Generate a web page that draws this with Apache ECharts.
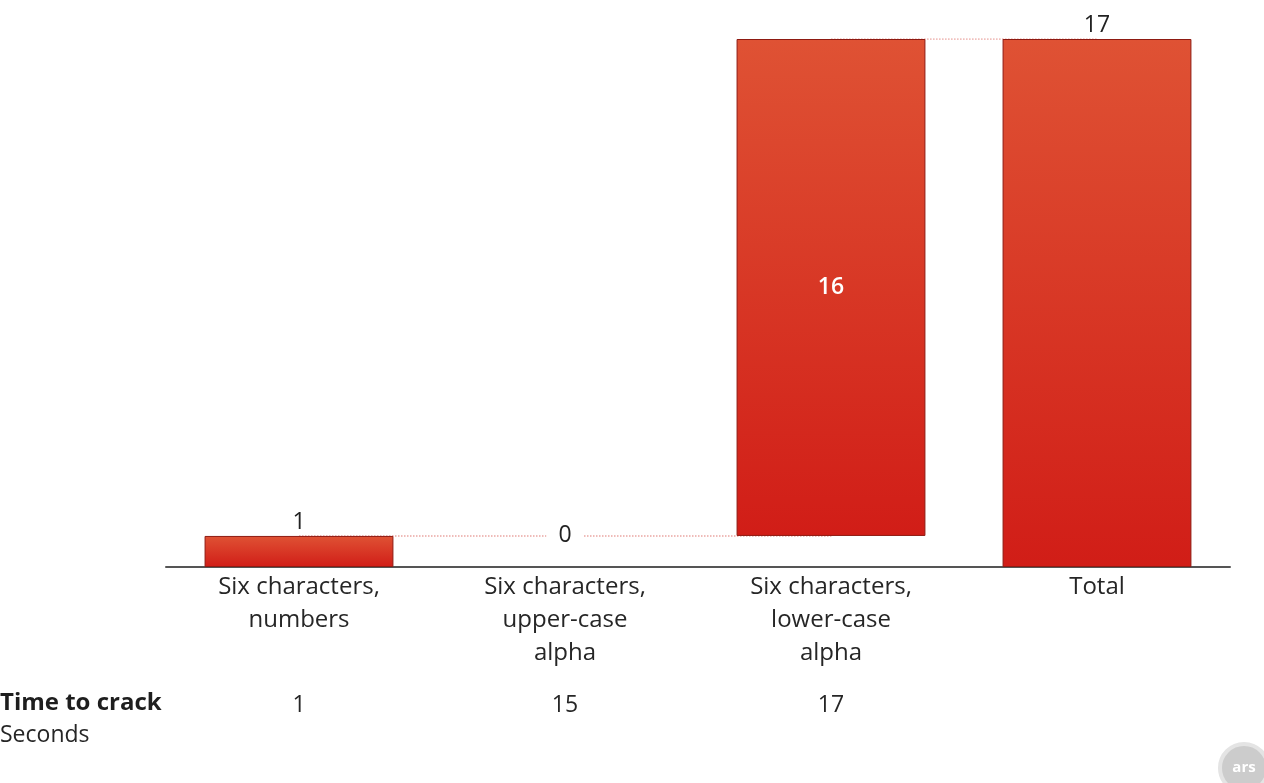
<!DOCTYPE html>
<html>
<head>
<meta charset="utf-8">
<script src="https://cdn.jsdelivr.net/npm/echarts@6/dist/echarts.min.js"></script>
<style>
html,body{margin:0;padding:0;background:#fff;}
#chart{width:1264px;height:783px;}
</style>
</head>
<body>
<div id="chart"></div>
<script>
// ---- data ----
var categories = ['Six characters,\nnumbers', 'Six characters,\nupper-case\nalpha', 'Six characters,\nlower-case\nalpha', 'Total'];
var barBase = [0, 1, 1, 0];          // invisible offset of each waterfall bar
var barValues = [1, 0, 16, 17];      // visible value of each bar
var runningLevel = [1, 1, 17, 17];   // level after each bar (connector line)
var crackTimes = ['1', '15', '17', ''];
var rowTitle = 'Time to crack';
var rowUnit = 'Seconds';

var FONT = '"Open Sans"';
var chart = echarts.init(document.getElementById('chart'));

var barColor = new echarts.graphic.LinearGradient(0, 0, 0, 1, [
  {offset: 0, color: '#df5234'},
  {offset: 1, color: '#d11d17'}
]);

var valueData = barValues.map(function (v, i) {
  var lbl, style = null;
  if (i === 2) {
    lbl = {show: true, position: 'inside', color: '#ffffff', fontSize: 23, fontWeight: 600, fontFamily: FONT};
  } else if (v === 0) {
    lbl = {show: true, position: 'inside', color: '#222', fontSize: 23, fontFamily: FONT,
           backgroundColor: '#fff', padding: [2, 12]};
    style = {color: 'transparent', borderWidth: 0};
  } else {
    lbl = {show: true, position: 'top', distance: 2, color: '#222', fontSize: 23, fontFamily: FONT};
  }
  var d = {value: v, label: lbl};
  if (style) d.itemStyle = style;
  return d;
});

chart.setOption({
  animation: false,
  backgroundColor: '#ffffff',
  grid: {left: 166, right: 34, top: 39, bottom: 216, containLabel: false},
  xAxis: [{
    type: 'category',
    data: categories,
    axisLine: {show: true, lineStyle: {color: '#555', width: 2}},
    axisTick: {show: false},
    axisLabel: {color: '#262626', fontSize: 24, lineHeight: 33, margin: 4, fontFamily: FONT, interval: 0}
  }, {
    type: 'category',
    data: categories,
    position: 'bottom',
    offset: 119,
    axisLine: {show: false},
    axisTick: {show: false},
    axisLabel: {color: '#262626', fontSize: 23, margin: 8, fontFamily: FONT, interval: 0,
      formatter: function (v, idx) { return crackTimes[idx]; }}
  }],
  yAxis: {type: 'value', min: 0, max: 17, show: false, splitLine: {show: false}},
  series: [{
    type: 'line',
    data: runningLevel,
    step: 'end',
    symbol: 'none',
    z: 1,
    lineStyle: {color: '#eaa6a2', width: 1.5, type: 'dotted'},
    silent: true
  }, {
    type: 'bar',
    stack: 'w',
    data: barBase,
    itemStyle: {color: 'transparent'},
    barCategoryGap: '29%',
    z: 3
  }, {
    type: 'bar',
    stack: 'w',
    data: valueData,
    itemStyle: {color: barColor, borderColor: '#8e1a12', borderWidth: 1},
    z: 3
  }],
  graphic: [{
    type: 'text', left: 0, top: 691,
    style: {text: rowTitle, fontSize: 24, fontWeight: 'bold', fill: '#1e1e1e', fontFamily: FONT}
  }, {
    type: 'text', left: 0, top: 724,
    style: {text: rowUnit, fontSize: 23, fill: '#262626', fontFamily: FONT}
  }, {
    type: 'circle', shape: {cx: 1244, cy: 768, r: 24},
    style: {fill: '#cccccc', stroke: '#e4e4e4', lineWidth: 4}
  }, {
    type: 'text', x: 1244, y: 768,
    style: {text: 'ars', fontSize: 15, fontWeight: 'bold', fill: '#fff', align: 'center', verticalAlign: 'middle', fontFamily: FONT}
  }]
});
</script>
</body>
</html>
